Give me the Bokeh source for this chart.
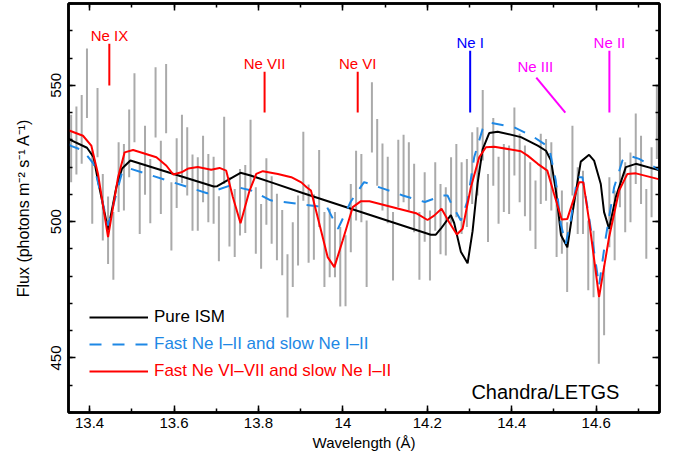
import numpy as np
from bokeh.plotting import figure
from bokeh.models import (LinearAxis, Range1d, Legend, LegendItem, Label,
                          FixedTicker, CustomJSTickFormatter)
from bokeh.core.properties import value
from bokeh.embed import file_html
from bokeh.resources import INLINE

# ---------------- data ----------------
bin_start = 13.35625
bin_width = 0.0125
flux_hi = [539.2, 542.2, 546.4, 563.5, 526.0, 549.0, 517.5, 509.2, 503.5, 529.1,
           528.5, 541.1, 554.4, 521.2, 535.2, 523.0, 556.6, 529.7, 557.8, 514.4,
           530.6, 539.2, 534.6, 524.6, 523.6, 531.5, 524.8, 523.8, 509.3, 538.5,
           516.3, 512.0, 519.3, 520.8, 537.4, 512.6, 506.5, 523.2, 516.6, 510.2,
           504.3, 488.0, 499.8, 509.6, 533.0, 513.6, 510.0, 526.3, 503.5, 504.7,
           503.5, 498.0, 495.0, 513.8, 526.0, 524.8, 500.4, 551.1, 537.6, 528.7,
           523.8, 503.5, 530.0, 531.9, 529.1, 521.2, 503.5, 518.1, 504.1, 521.8,
           513.8, 512.6, 523.6, 528.5, 521.8, 523.0, 532.8, 534.6, 548.3, 517.5,
           538.0, 523.8, 528.5, 527.9, 541.9, 532.2, 527.9, 521.8, 515.1, 532.2,
           530.3, 529.1, 513.2, 511.4, 499.8, 535.2, 519.9, 518.7, 500.4, 496.7,
           472.3, 483.9, 516.3, 511.4, 530.9, 521.8, 525.4, 539.7, 531.5, 512.0,
           527.3, 549.9]
flux_lo = [514.4, 517.3, 521.2, 538.0, 499.2, 523.6, 493.1, 484.5, 478.7, 503.5,
           504.1, 516.3, 529.1, 495.5, 509.9, 499.4, 530.9, 502.8, 532.4, 489.4,
           505.0, 514.1, 509.6, 496.7, 496.7, 507.1, 499.8, 499.2, 485.5, 513.8,
           490.9, 487.0, 494.9, 495.8, 512.6, 488.2, 482.7, 498.9, 491.9, 485.8,
           480.3, 464.8, 476.0, 483.9, 507.7, 484.9, 486.0, 498.0, 476.0, 479.6,
           479.6, 468.9, 469.0, 488.8, 500.4, 499.8, 476.0, 525.4, 513.2, 504.1,
           499.4, 478.4, 505.3, 507.1, 504.1, 496.1, 478.7, 492.6, 478.4, 496.7,
           488.0, 487.6, 499.2, 501.6, 495.5, 498.0, 506.5, 509.6, 522.4, 492.5,
           513.2, 499.2, 503.5, 502.8, 516.9, 507.1, 502.0, 496.7, 490.0, 506.5,
           507.7, 504.1, 487.0, 488.2, 474.2, 509.6, 495.5, 495.5, 474.8, 472.3,
           447.9, 458.3, 490.6, 485.8, 505.3, 496.1, 499.8, 513.8, 506.5, 486.4,
           501.6, 523.0]
wave = np.round(bin_start + bin_width * np.arange(len(flux_hi)), 5)

ism_wave = [13.35, 13.3542, 13.3938, 13.4095, 13.4199, 13.4437, 13.4633, 13.4769,
            13.4966, 13.6942, 13.7023, 13.7575, 13.7813, 13.8287, 13.9046, 14.1846,
            14.2083, 14.2202, 14.232, 14.2557, 14.2636, 14.2794, 14.2954, 14.3072,
            14.3191, 14.331, 14.3466, 14.3666, 14.4218, 14.4615, 14.4811, 14.493,
            14.5049, 14.5167, 14.5317, 14.5435, 14.5635, 14.5832, 14.595, 14.6109,
            14.6187, 14.6306, 14.6465, 14.6702, 14.694, 14.75]
ism_flux = [530.5, 530.0, 527.1, 523.6, 515.0, 497.0, 512.6, 519.5,
            522.4, 512.9, 513.0, 517.9, 516.9, 514.5, 510.5, 496.4,
            495.2, 495.2, 497.4, 502.4, 499.5, 489.0, 484.7, 496.5,
            514.0, 526.5, 532.5, 533.0, 531.0, 527.9, 526.0, 522.4,
            511.0, 495.0, 490.6, 502.8, 522.0, 524.5, 522.4, 513.8,
            503.5, 497.4, 509.0, 520.0, 521.2, 518.8]

fast1_wave = [13.35, 13.3542, 13.3843, 13.4095, 13.4437, 13.4769, 13.4966, 13.6785,
              13.7338, 13.7829, 13.8287, 13.9395, 13.9592, 13.9884, 14.0185, 14.0501,
              14.0975, 14.1419, 14.1941, 14.236, 14.2479, 14.2557, 14.2794, 14.2954,
              14.311, 14.331, 14.3506, 14.4059, 14.4534, 14.4883, 14.5042, 14.516,
              14.5279, 14.5397, 14.5554, 14.5673, 14.5832, 14.6068, 14.6228, 14.6425,
              14.6622, 14.6781, 14.7018, 14.75]
fast1_flux = [528.5, 527.9, 526.1, 521.2, 498.6, 518.1, 519.4, 510.4,
              513.3, 511.4, 507.8, 505.6, 506.3, 497.4, 507.3, 514.5,
              512.0, 509.6, 507.2, 509.6, 509.6, 507.0, 500.4, 507.7,
              523.6, 534.0, 536.2, 534.6, 530.9, 527.3, 515.1, 499.2,
              491.9, 500.4, 516.3, 516.3, 501.6, 476.5, 494.3, 512.6,
              522.4, 524.2, 523.0, 519.0]

fast2_wave = [13.35, 13.3843, 13.404, 13.4199, 13.4437, 13.4674, 13.483, 13.503,
              13.5582, 13.582, 13.5979, 13.6176, 13.6342, 13.6562, 13.688, 13.7077,
              13.7236, 13.7393, 13.7575, 13.7789, 13.7948, 13.8104, 13.846, 13.8778,
              13.9015, 13.9141, 13.9243, 13.9442, 13.9639, 13.9798, 13.9995, 14.0233,
              14.0429, 14.0629, 14.1734, 14.2005, 14.2161, 14.2337, 14.2517, 14.27,
              14.2835, 14.3032, 14.3229, 14.3388, 14.3585, 14.4218, 14.4377, 14.4615,
              14.4842, 14.5001, 14.5184, 14.5317, 14.5594, 14.5696, 14.5832, 14.6068,
              14.6306, 14.6543, 14.674, 14.694, 14.75]
fast2_flux = [533.5, 531.5, 527.9, 517.5, 494.3, 516.3, 525.4, 526.3,
              523.6, 520.5, 517.3, 518.1, 519.5, 520.0, 519.0, 519.7,
              518.7, 509.0, 499.4, 511.4, 517.5, 518.5, 517.5, 516.3,
              514.4, 512.6, 511.4, 499.2, 487.0, 483.3, 493.1, 505.3,
              507.5, 507.5, 503.1, 500.6, 502.2, 504.7, 499.8, 495.3,
              497.4, 512.6, 523.6, 527.3, 527.5, 525.8, 524.2, 521.2,
              518.7, 510.2, 500.8, 501.0, 514.4, 514.4, 500.4, 472.3,
              494.3, 511.4, 517.5, 517.7, 515.5]

ion_labels = ["Ne IX", "Ne VII", "Ne VI", "Ne I", "Ne III", "Ne II"]
ion_colors = ["#ff0000", "#ff0000", "#ff0000", "#0000ff", "#ff00ff", "#ff00ff"]
ion_text_x = [13.447, 13.8145, 14.035, 14.3015, 14.4558, 14.6313]
ion_text_y = [568.2, 557.9, 558.1, 565.6, 556.9, 565.6]
ion_x0 = [13.4467, 13.8145, 14.0351, 14.3015, 14.4581, 14.6313]
ion_y0 = [565.2, 555.0, 555.0, 562.7, 552.8, 562.7]
ion_x1 = [13.4467, 13.8145, 14.0351, 14.3015, 14.5269, 14.6313]
ion_y1 = [549.9, 540.0, 540.0, 540.0, 540.0, 540.0]

x_major = [13.4, 13.6, 13.8, 14.0, 14.2, 14.4, 14.6]
x_minor = [13.4, 13.5, 13.6, 13.7, 13.8, 13.9, 14.0, 14.1, 14.2, 14.3, 14.4, 14.5, 14.6, 14.7]
y_major = [450, 500, 550]
y_minor = [430, 440, 450, 460, 470, 480, 490, 500, 510, 520, 530, 540, 550, 560, 570, 580]

FONT = "Liberation Sans"
BLUE = "#1e88e5"

# ---------------- figure ----------------
p = figure(width=682, height=459, output_backend="svg", toolbar_location=None,
           x_range=Range1d(13.35, 14.75), y_range=Range1d(430, 580),
           min_border_left=68, min_border_right=23, min_border_top=3, min_border_bottom=47,
           x_axis_label="Wavelength (Å)", y_axis_label="Flux (photons m⁻² s⁻¹ A⁻¹)")
p.grid.visible = False
p.background_fill_color = "white"
p.border_fill_color = "white"
p.outline_line_color = "black"
p.outline_line_width = 2.5


def style_axis(ax, ticks, minor):
    ax.ticker = FixedTicker(ticks=ticks, minor_ticks=minor)
    ax.axis_line_color = "black"
    ax.axis_line_width = 2.5
    ax.major_tick_in = 7
    ax.major_tick_out = 0
    ax.minor_tick_in = 4
    ax.minor_tick_out = 0
    ax.major_tick_line_width = 1.5
    ax.minor_tick_line_width = 1.5
    ax.major_tick_line_color = "black"
    ax.minor_tick_line_color = "black"
    ax.major_label_text_font = FONT
    ax.major_label_text_font_size = "15px"
    ax.major_label_text_color = "black"
    ax.axis_label_text_font = FONT
    ax.axis_label_text_font_size = "15px"
    ax.axis_label_text_font_style = "normal"
    ax.axis_label_text_color = "black"


style_axis(p.xaxis[0], x_major, x_minor)
style_axis(p.yaxis[0], y_major, y_minor)
p.xaxis[0].major_label_standoff = 5
p.xaxis[0].axis_label_standoff = 3
p.yaxis[0].major_label_orientation = "vertical"
p.yaxis[0].major_label_standoff = 7
p.yaxis[0].axis_label_standoff = 17
p.yaxis[0].axis_label_text_font_size = "16px"

blank = CustomJSTickFormatter(code="return ''")
top_ax = LinearAxis(formatter=blank, major_label_standoff=0)
style_axis(top_ax, x_major, x_minor)
right_ax = LinearAxis(formatter=CustomJSTickFormatter(code="return ''"), major_label_standoff=0)
style_axis(right_ax, y_major, y_minor)
p.add_layout(top_ax, "above")
p.add_layout(right_ax, "right")

# error bars
p.segment(x0=wave, y0=flux_lo, x1=wave, y1=flux_hi, line_color="#aaaaaa", line_width=2)

# model curves
r_ism = p.line(ism_wave, ism_flux, line_color="black", line_width=2)
r_f1 = p.line(fast1_wave, fast1_flux, line_color=BLUE, line_width=2, line_dash="12 11")
r_f2 = p.line(fast2_wave, fast2_flux, line_color="#ff0000", line_width=2)

# ion markers
p.segment(x0=ion_x0, y0=ion_y0, x1=ion_x1, y1=ion_y1, line_color=ion_colors, line_width=2)
p.text(x=ion_text_x, y=ion_text_y, text=ion_labels, text_color=ion_colors,
       text_font=value(FONT), text_font_size="15px", text_align="center",
       text_baseline="middle")

p.add_layout(Label(x=14.4796, y=437.5, text="Chandra/LETGS", text_font=FONT,
                   text_font_size="20px", text_align="center",
                   text_baseline="alphabetic", text_color="black"))

# legends (one per entry so each label keeps its colour)
entries = [("Pure ISM", r_ism, "black", 85),
           ("Fast Ne I\u2013II and slow Ne I\u2013II", r_f1, BLUE, 58),
           ("Fast Ne VI\u2013VII and slow Ne I\u2013II", r_f2, "#ff0000", 31)]
for lab, rend, col, yy in entries:
    lg = Legend(items=[LegendItem(label=lab, renderers=[rend])], location=(21, yy),
                glyph_width=59, glyph_height=20, label_height=20, label_standoff=6,
                padding=0, margin=0, spacing=0, border_line_color=None,
                background_fill_alpha=0, label_text_font=FONT,
                label_text_font_size="17px", label_text_color=col)
    p.add_layout(lg, "center")

open("out.html", "w").write(file_html(p, INLINE))
